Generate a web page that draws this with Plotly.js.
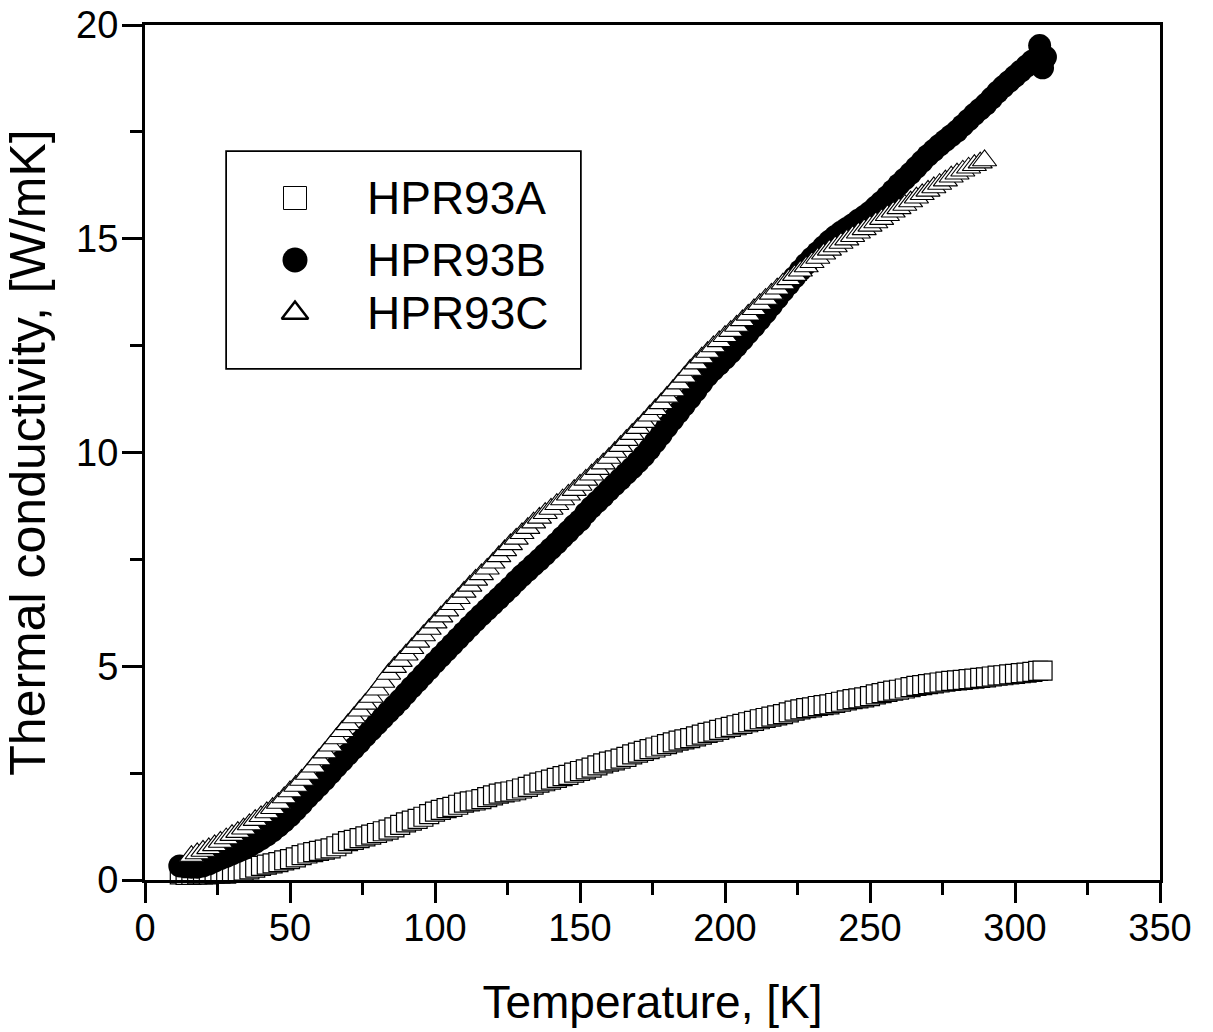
<!DOCTYPE html>
<html>
<head>
<meta charset="utf-8">
<script src="https://cdn.plot.ly/plotly-3.0.1.min.js"></script>
<style>
html,body{margin:0;padding:0;background:#fff;}
#chart{width:1213px;height:1032px;}
</style>
</head>
<body>
<div id="chart"></div>
<script>
// ---------------- data ----------------
const seriesNames = ["HPR93A", "HPR93B", "HPR93C"];

const tempA = [12,14,16,18,20,22,24,26,28,30,32,34,36,38,40,42,44,46,48,50,52,54,56,58,60,62,64,66,68,70,72,74,76,78,80,82,84,86,88,90,92,94,96,98,100,102,104,106,108,110,112,114,116,118,120,122,124,126,128,130,132,134,136,138,140,142,144,146,148,150,152,154,156,158,160,162,164,166,168,170,172,174,176,178,180,182,184,186,188,190,192,194,196,198,200,202,204,206,208,210,212,214,216,218,220,222,224,226,228,230,232,234,236,238,240,242,244,246,248,250,252,254,256,258,260,262,264,266,268,270,272,274,276,278,280,282,284,286,288,290,292,294,296,298,300,302,304,306,308,309.5];
const condA = [0.13,0.12,0.12,0.13,0.13,0.13,0.14,0.15,0.15,0.17,0.20,0.22,0.25,0.29,0.33,0.36,0.39,0.42,0.46,0.49,0.53,0.58,0.62,0.65,0.68,0.71,0.74,0.79,0.85,0.91,0.94,0.98,1.02,1.06,1.10,1.14,1.18,1.23,1.29,1.35,1.39,1.43,1.48,1.54,1.60,1.64,1.68,1.71,1.76,1.81,1.84,1.86,1.89,1.94,1.98,2.02,2.05,2.07,2.10,2.14,2.18,2.23,2.28,2.31,2.35,2.39,2.43,2.46,2.51,2.55,2.59,2.63,2.68,2.73,2.77,2.80,2.84,2.88,2.94,2.98,3.02,3.06,3.10,3.14,3.18,3.22,3.26,3.29,3.32,3.36,3.40,3.44,3.47,3.51,3.55,3.58,3.62,3.65,3.69,3.72,3.76,3.79,3.82,3.85,3.88,3.92,3.96,3.99,4.02,4.04,4.07,4.09,4.11,4.14,4.17,4.20,4.23,4.25,4.27,4.30,4.34,4.37,4.40,4.43,4.45,4.48,4.51,4.54,4.56,4.58,4.60,4.62,4.64,4.66,4.67,4.68,4.70,4.71,4.73,4.74,4.76,4.78,4.79,4.81,4.82,4.84,4.85,4.87,4.89,4.90];

const tempB = [12,14,16,18,20,22,24,26,28,30,32,34,36,38,40,42,44,46,48,50,52,54,56,58,60,62,64,66,68,70,72,74,76,78,80,82,84,86,88,90,92,94,96,98,100,102,104,106,108,110,112,114,116,118,120,122,124,126,128,130,132,134,136,138,140,142,144,146,148,150,152,154,156,158,160,162,164,166,168,170,172,174,176,178,180,182,184,186,188,190,192,194,196,198,200,202,204,206,208,210,212,214,216,218,220,222,224,226,228,230,232,234,236,238,240,242,244,246,248,250,252,254,256,258,260,262,264,266,268,270,272,274,276,278,280,282,284,286,288,290,292,294,296,298,300,302,304,306,308.5,309.5,310.5];
const condB = [0.33,0.31,0.30,0.30,0.33,0.38,0.44,0.50,0.55,0.61,0.67,0.73,0.80,0.88,0.96,1.05,1.15,1.26,1.38,1.50,1.64,1.78,1.93,2.07,2.21,2.35,2.50,2.65,2.79,2.94,3.08,3.22,3.37,3.51,3.65,3.79,3.93,4.07,4.21,4.36,4.51,4.65,4.80,4.94,5.09,5.23,5.37,5.51,5.65,5.79,5.93,6.07,6.20,6.33,6.46,6.59,6.72,6.85,6.99,7.12,7.24,7.37,7.49,7.62,7.75,7.88,8.02,8.15,8.29,8.41,8.58,8.72,8.85,8.98,9.12,9.25,9.38,9.51,9.64,9.78,9.92,10.08,10.25,10.42,10.60,10.77,10.94,11.11,11.28,11.45,11.63,11.80,11.94,12.07,12.20,12.34,12.49,12.64,12.80,12.95,13.11,13.27,13.44,13.61,13.78,13.94,14.10,14.26,14.41,14.55,14.68,14.81,14.94,15.05,15.15,15.24,15.33,15.43,15.52,15.62,15.74,15.86,15.99,16.13,16.27,16.40,16.53,16.67,16.81,16.95,17.07,17.19,17.30,17.41,17.52,17.65,17.78,17.91,18.03,18.15,18.29,18.43,18.56,18.68,18.80,18.92,19.04,19.16,19.52,19.00,19.25];

const tempC = [16,18,20,22,24,26,28,30,32,34,36,38,40,42,44,46,48,50,52,54,56,58,60,62,64,66,68,70,72,74,76,78,80,82,84,86,88,90,92,94,96,98,100,102,104,106,108,110,112,114,116,118,120,122,124,126,128,130,132,134,136,138,140,142,144,146,148,150,152,154,156,158,160,162,164,166,168,170,172,174,176,178,180,182,184,186,188,190,192,194,196,198,200,202,204,206,208,210,212,214,216,218,220,222,224,226,228,230,232,234,236,238,240,242,244,246,248,250,252,254,256,258,260,262,264,266,268,270,272,274,276,278,280,282,284,286,288,289.5];
const condC = [0.56,0.62,0.68,0.74,0.81,0.89,0.97,1.05,1.12,1.20,1.30,1.40,1.49,1.58,1.68,1.80,1.93,2.07,2.20,2.34,2.48,2.65,2.82,2.98,3.14,3.31,3.48,3.64,3.80,3.96,4.12,4.28,4.45,4.63,4.82,4.98,5.12,5.27,5.42,5.57,5.72,5.87,6.02,6.16,6.30,6.45,6.59,6.74,6.88,7.02,7.15,7.28,7.42,7.57,7.71,7.85,7.98,8.11,8.23,8.36,8.47,8.58,8.68,8.79,8.90,9.01,9.12,9.24,9.36,9.48,9.61,9.74,9.87,10.01,10.15,10.29,10.43,10.57,10.71,10.86,11.01,11.15,11.30,11.45,11.61,11.77,11.93,12.08,12.22,12.35,12.48,12.60,12.72,12.84,12.96,13.09,13.22,13.35,13.47,13.59,13.71,13.83,13.95,14.05,14.15,14.25,14.35,14.45,14.55,14.65,14.74,14.82,14.90,14.98,15.06,15.14,15.22,15.30,15.38,15.46,15.55,15.63,15.71,15.79,15.87,15.96,16.04,16.12,16.20,16.28,16.36,16.45,16.52,16.59,16.66,16.72,16.78,16.83];

const xTitle = "Temperature, [K]";
const yTitle = "Thermal conductivity, [W/mK]";

// ---------------- styling ----------------
const FONT = "'Liberation Sans', Arial, Helvetica, sans-serif";
const W = 1213, H = 1032;
const M = {l: 145, r: 53, t: 25, b: 152};
const plotW = W - M.l - M.r, plotH = H - M.t - M.b;
function px2paperX(px){ return (px - M.l) / plotW; }
function px2paperY(py){ return (H - M.b - py) / plotH; }

const styles = [
  {symbol: 'square', size: 19, color: '#ffffff', opacity: 1, line: {color: '#000000', width: 1.2}},
  {symbol: 'circle', size: 23, color: '#000000', opacity: 1, line: {color: '#000000', width: 0}},
  {symbol: 'triangle-up', size: 21, color: '#ffffff', opacity: 1, line: {color: '#000000', width: 1.1}}
];
const xs = [tempA, tempB, tempC];
const ys = [condA, condB, condC];

const traces = xs.map((x, i) => ({
  type: 'scatter', mode: 'markers', name: seriesNames[i],
  x: x, y: ys[i], xaxis: 'x', yaxis: 'y', opacity: 1,
  marker: styles[i], cliponaxis: false, showlegend: false, hoverinfo: 'x+y'
}));

// custom legend (box + larger symbols + labels), positioned in pixels
const legBox = {x0: 227, x1: 580, y0: 152, y1: 368};
const legRowsPx = [198, 260, 313];
const legSymX = 295, legTextX = 365;
const legStyles = [
  {symbol: 'square', size: 23, color: '#ffffff', lw: 1},
  {symbol: 'circle', size: 25, color: '#000000', lw: 0},
  {symbol: 'triangle-up', size: 23, color: '#ffffff', lw: 2.5}
];
traces.push({
  type: 'scatter', mode: 'markers', xaxis: 'x2', yaxis: 'y2', showlegend: false, hoverinfo: 'skip',
  opacity: 1,
  x: legRowsPx.map(() => (legSymX - legBox.x0) / (legBox.x1 - legBox.x0)),
  y: legRowsPx.map(p => (legBox.y1 - p) / (legBox.y1 - legBox.y0)),
  marker: {
    symbol: legStyles.map(s => s.symbol), size: legStyles.map(s => s.size),
    color: legStyles.map(s => s.color), opacity: 1,
    line: {color: '#000000', width: legStyles.map(s => s.lw)}
  },
  cliponaxis: false
});

const axisCommon = {
  showgrid: false, zeroline: false, showline: true, linecolor: '#000000', linewidth: 3,
  mirror: true, ticks: 'outside', ticklen: 20, tickwidth: 3, tickcolor: '#000000',
  tickfont: {family: FONT, size: 38, color: '#000000'}
};

const layout = {
  width: W, height: H, margin: M, paper_bgcolor: 'white', plot_bgcolor: 'white',
  showlegend: false,
  font: {family: FONT, color: '#000000'},
  xaxis: Object.assign({}, axisCommon, {
    range: [0, 350], tick0: 0, dtick: 50,
    minor: {ticks: 'outside', ticklen: 12, tickwidth: 3, tickcolor: '#000000', dtick: 25, showgrid: false},
    title: {text: xTitle, font: {family: FONT, size: 46, color: '#000000'}, standoff: 39},
    ticklabelstandoff: -8,
    automargin: false
  }),
  yaxis: Object.assign({}, axisCommon, {
    range: [0, 20], tick0: 0, dtick: 5,
    minor: {ticks: 'outside', ticklen: 12, tickwidth: 3, tickcolor: '#000000', dtick: 2.5, showgrid: false},
    title: {text: yTitle, font: {family: FONT, size: 50, color: '#000000'}, standoff: 16},
    ticklabelstandoff: -4,
    automargin: false
  }),
  xaxis2: {domain: [px2paperX(legBox.x0), px2paperX(legBox.x1)], range: [0, 1], anchor: 'y2', visible: false, fixedrange: true},
  yaxis2: {domain: [px2paperY(legBox.y1), px2paperY(legBox.y0)], range: [0, 1], anchor: 'x2', visible: false, fixedrange: true},
  shapes: [{
    type: 'rect', xref: 'paper', yref: 'paper', layer: 'below',
    x0: px2paperX(legBox.x0), x1: px2paperX(legBox.x1),
    y0: px2paperY(legBox.y1), y1: px2paperY(legBox.y0),
    line: {color: '#000000', width: 3.5}, fillcolor: 'white'
  }],
  annotations: seriesNames.map((n, i) => ({
    text: n, xref: 'paper', yref: 'paper', x: px2paperX(legTextX), y: px2paperY(legRowsPx[i]),
    xanchor: 'left', yanchor: 'middle', showarrow: false,
    font: {family: FONT, size: 46, color: '#000000'}
  }))
};

Plotly.newPlot('chart', traces, layout, {staticPlot: true, displayModeBar: false});
</script>
</body>
</html>
